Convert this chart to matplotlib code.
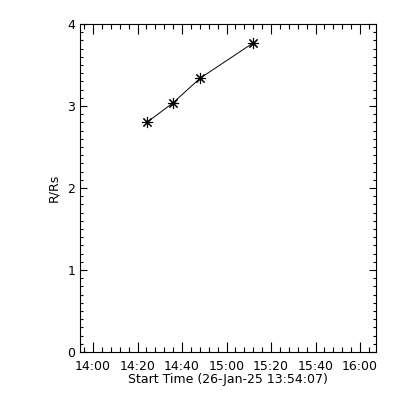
import matplotlib
matplotlib.use("Agg")
import matplotlib.pyplot as plt
import matplotlib.dates as mdates
from datetime import datetime

times = ["2025-01-26 14:24:10", "2025-01-26 14:36:00", "2025-01-26 14:48:10", "2025-01-26 15:12:00"]
heights = [2.80, 3.04, 3.34, 3.77]
x_start = "2025-01-26 13:54:07"
x_end = "2025-01-26 16:07:10"
xlabel = "Start Time (26-Jan-25 13:54:07)"
ylabel = "R/Rs"

fmt = "%Y-%m-%d %H:%M:%S"
t = [datetime.strptime(s, fmt) for s in times]

fig = plt.figure(figsize=(4, 4), dpi=100)
ax = fig.add_axes([0.2, 0.12, 0.74, 0.82])
ax.plot(t, heights, color="black", lw=0.7, marker=(8, 2, 0), markersize=8, markeredgewidth=0.8)

ax.set_xlim(datetime.strptime(x_start, fmt), datetime.strptime(x_end, fmt))
ax.set_ylim(0, 4)
ax.xaxis.set_major_locator(mdates.MinuteLocator(byminute=[0, 20, 40]))
ax.xaxis.set_minor_locator(mdates.MinuteLocator(byminute=range(0, 60, 4)))
ax.xaxis.set_major_formatter(mdates.DateFormatter("%H:%M"))
ax.set_yticks([0, 1, 2, 3, 4])
ax.set_yticks([i / 10 for i in range(41)], minor=True)

ax.tick_params(axis="both", which="both", direction="in", top=True, right=True, labelsize=9, width=0.8)
ax.tick_params(axis="x", which="major", length=7)
ax.tick_params(axis="x", which="minor", length=3.5)
ax.tick_params(axis="y", which="major", length=5)
ax.tick_params(axis="y", which="minor", length=2.5)
ax.tick_params(axis="x", pad=6)
for s in ax.spines.values():
    s.set_linewidth(0.8)
ax.set_xlabel(xlabel, fontsize=9, labelpad=0)
ax.set_ylabel(ylabel, fontsize=9, labelpad=5)
fig.savefig("out.png", dpi=100, facecolor="white")
